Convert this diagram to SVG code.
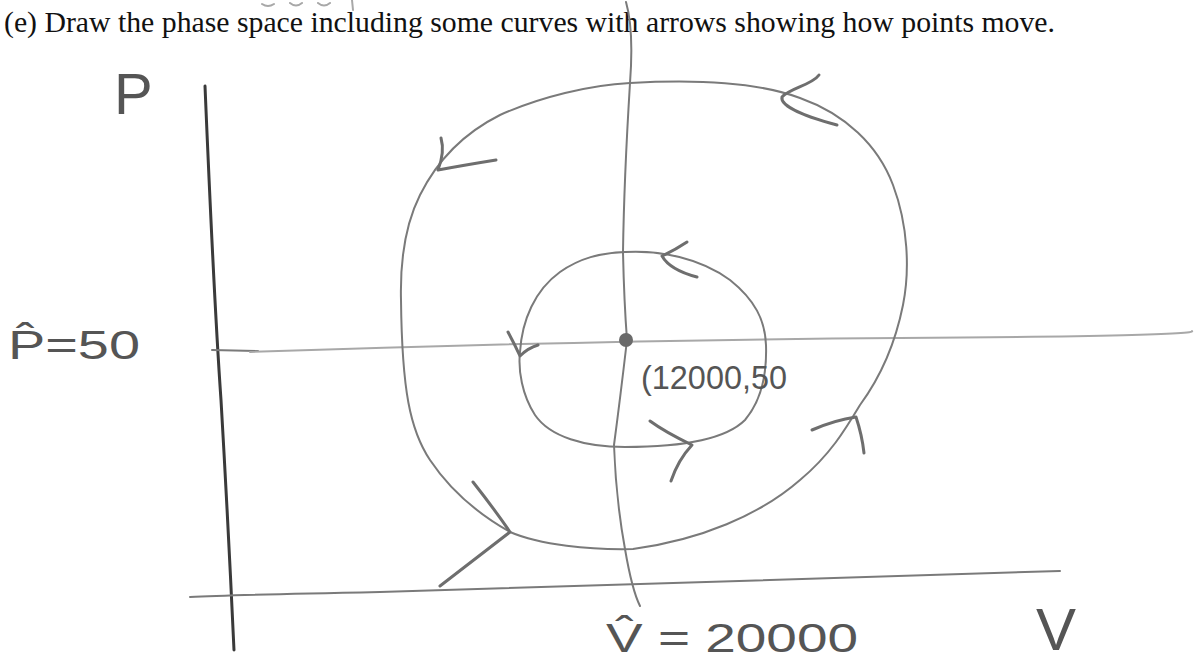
<svg xmlns="http://www.w3.org/2000/svg" width="1194" height="664" viewBox="0 0 1194 664">
<style>
.pen{fill:none;stroke:#7a7a7a;stroke-width:2;stroke-linecap:round;stroke-linejoin:round}
.light{fill:none;stroke:#a8a8a8;stroke-width:2;stroke-linecap:round}
.dark{fill:none;stroke:#3a3a3a;stroke-width:3;stroke-linecap:round}
.arr{fill:none;stroke:#6e6e6e;stroke-width:3;stroke-linecap:round;stroke-linejoin:round}
.hand{font-family:"Liberation Sans",Arial,sans-serif;fill:#555}
.title{font-family:"Liberation Serif","Times New Roman",serif;fill:#111}
</style>
<rect width="1194" height="664" fill="#fff"/>
<g id="title">
<text class="title" x="4" y="32" font-size="29" textLength="1051" lengthAdjust="spacingAndGlyphs">(e) Draw the phase space including some curves with arrows showing how points move.</text>
<path class="light" d="M262 4 q6 4 12 0 M290 3 q6 5 12 0 M318 3 q6 5 12 0 M352 0 l1 10"/>
</g>
<g id="axes">
<path id="p-axis" class="dark" d="M205 86 Q214 300 221 400 Q228 520 234 650"/>
<path id="p-tick" class="pen" d="M212 350 L258 351"/>
<path id="p-hat-line" class="light" d="M250 352 Q600 340 900 338 T1192 331"/>
<path id="v-axis" class="pen" stroke-width="3" d="M190 597 Q230 595 380 592 Q700 582 1060 571"/>
<path id="v-hat-line" class="pen" d="M626 2 Q634 30 630 83 Q624 180 623 252 Q624 300 627 340 Q620 400 614 445 Q616 500 625 549 Q632 590 640 606"/>
</g>
<g id="outer-orbit">
<path class="pen" d="M630 83 C700 79 760 83 800 98 C845 114 878 145 893 185 C908 225 910 270 903 305 C896 340 882 375 860 405 C845 430 830 455 800 480 C760 515 700 540 633 549 C590 550 540 545 510 532 C480 515 450 490 430 460 C410 430 402 390 401 300 C400 260 405 225 420 195 C435 165 460 135 500 115 C540 97 590 85 630 83 Z"/>
<path class="arr" d="M441 138 Q445 152 438 170 Q465 165 496 160"/>
<path class="arr" d="M819 75 C812 85 790 88 782 97 C780 105 800 115 837 125"/>
<path class="arr" d="M812 430 Q835 420 856 417 Q862 435 864 453"/>
<path class="arr" d="M473 482 Q495 510 510 532 Q480 555 440 586"/>
</g>
<g id="inner-orbit">
<path class="pen" d="M625 252 C660 250 700 258 730 280 C755 300 765 320 766 345 C767 375 762 400 745 420 C725 440 680 447 625 447 C585 447 550 437 535 415 C522 395 518 370 520 352 C522 320 535 290 560 272 C580 258 600 253 625 252 Z"/>
<path class="arr" d="M687 242 Q675 250 662 256 Q670 270 697 277"/>
<path class="arr" d="M508 332 Q515 345 520 356 Q528 348 538 345"/>
<path class="arr" d="M650 421 Q665 432 692 445 Q678 460 671 481"/>
</g>
<g id="equilibrium">
<circle cx="626" cy="340" r="7" fill="#6a6a6a"/>
<text class="hand" x="641" y="389" font-size="34" textLength="146" lengthAdjust="spacingAndGlyphs">(12000,50</text>
</g>
<g id="labels">
<text class="hand" x="114" y="114" font-size="58">P</text>
<text class="hand" x="8" y="359" font-size="40" textLength="132" lengthAdjust="spacingAndGlyphs">P̂=50</text>
<text class="hand" x="606" y="652" font-size="40" textLength="252" lengthAdjust="spacingAndGlyphs">V̂ = 20000</text>
<text class="hand" x="1036" y="650" font-size="60">V</text>
</g>
</svg>
